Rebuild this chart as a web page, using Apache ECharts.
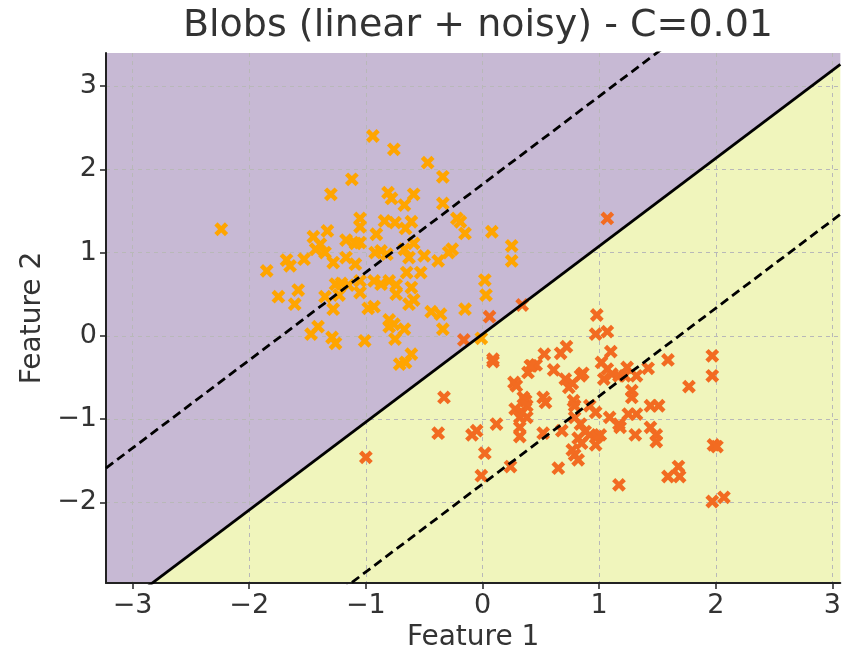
<!DOCTYPE html>
<html>
<head>
<meta charset="utf-8">
<script src="https://cdn.jsdelivr.net/npm/echarts@6/dist/echarts.min.js"></script>
<style>
  html, body { margin: 0; padding: 0; background: #fff; }
  #chart { width: 844px; height: 657px; }
</style>
</head>
<body>
<div id="chart"></div>
<script>
// axis ranges and ticks
const xRange = [-3.228, 3.068];
const yRange = [-2.969, 3.397];
const xTicks = [-3, -2, -1, 0, 1, 2, 3];
const yTicks = [-2, -1, 0, 1, 2, 3];

// svm boundary: y = slope * x + intercept
const boundarySlope = 1.056;
const boundaryIntercept = 0.02;
const marginIntercepts = [1.82, -1.78];

// class 0 (orange)
const class0 = [
  [-2.24, 1.28], [-0.94, 2.40], [-0.76, 2.24], [-0.47, 2.08], [-0.34, 1.91], [-1.12, 1.88],
  [-1.30, 1.70], [-0.81, 1.72], [-0.78, 1.65], [-0.59, 1.70], [-0.67, 1.57], [-0.34, 1.59],
  [-1.05, 1.41], [-1.05, 1.31], [-0.84, 1.38], [-0.75, 1.36], [-0.61, 1.37], [-0.66, 1.29],
  [-0.22, 1.41], [-0.19, 1.37], [-0.15, 1.23], [0.08, 1.25], [-1.33, 1.26], [-1.45, 1.19],
  [-1.39, 1.10], [-1.43, 1.04], [-1.35, 1.00], [-1.17, 1.15], [-1.09, 1.11], [-1.05, 1.12],
  [-0.91, 1.22], [-0.92, 1.00], [-0.87, 1.02], [-0.82, 0.98], [-0.67, 1.04], [-0.63, 0.94],
  [-0.59, 1.11], [-0.50, 0.96], [-0.38, 0.90], [-0.29, 1.00], [-0.26, 1.04], [0.25, 1.08],
  [0.25, 0.90], [-1.85, 0.78], [-1.68, 0.91], [-1.65, 0.84], [-1.53, 0.92], [-1.28, 0.88],
  [-1.17, 0.94], [-1.09, 0.86], [-1.75, 0.47], [-1.58, 0.55], [-1.61, 0.38], [-1.26, 0.62],
  [-1.21, 0.63], [-1.15, 0.61], [-1.35, 0.47], [-1.23, 0.49], [-1.28, 0.32], [-1.05, 0.52],
  [-1.05, 0.66], [-0.93, 0.66], [-0.87, 0.62], [-0.80, 0.66], [-0.74, 0.61], [-0.65, 0.76],
  [-0.53, 0.76], [-0.61, 0.58], [-0.74, 0.50], [-0.63, 0.38], [-0.59, 0.43], [-0.98, 0.33],
  [-0.93, 0.35], [-0.44, 0.29], [-0.36, 0.26], [-0.34, 0.08], [-0.15, 0.32], [0.02, 0.67],
  [0.03, 0.49], [-1.47, 0.02], [-1.41, 0.11], [-1.29, -0.02], [-1.26, -0.09], [-1.01, -0.06],
  [-0.80, 0.19], [-0.80, 0.11], [-0.76, 0.14], [-0.67, 0.08], [-0.75, -0.04], [-0.61, -0.22],
  [-0.71, -0.34], [-0.66, -0.32], [-0.01, -0.03]
];

// class 1 (orange-red)
const class1 = [
  [0.34, 0.37], [0.06, 0.23], [-0.16, -0.05], [0.98, 0.25], [0.97, 0.02], [1.07, 0.05],
  [-0.33, -0.74], [0.09, -0.31], [-0.38, -1.17], [-0.09, -1.19], [-0.05, -1.14], [0.02, -1.41],
  [-0.01, -1.68], [0.12, -1.06], [0.24, -1.57], [0.65, -1.59], [0.53, -0.22], [0.67, -0.21],
  [0.72, -0.13], [0.42, -0.36], [0.46, -0.35], [0.61, -0.41], [0.39, -0.44], [0.27, -0.56],
  [0.29, -0.60], [0.71, -0.52], [0.77, -0.57], [0.74, -0.62], [0.84, -0.48], [0.86, -0.45],
  [0.35, -0.74], [0.37, -0.78], [0.38, -0.84], [0.52, -0.74], [0.54, -0.80], [0.78, -0.78],
  [0.79, -0.84], [0.28, -0.88], [0.34, -0.92], [0.38, -0.98], [0.32, -0.98], [0.32, -1.10],
  [0.32, -1.21], [0.52, -1.17], [0.68, -1.14], [0.79, -0.98], [0.84, -1.06], [0.88, -1.15],
  [0.82, -1.23], [0.85, -1.29], [0.77, -1.37], [0.79, -1.43], [0.82, -1.49], [0.92, -0.84],
  [0.97, -0.92], [0.92, -1.19], [0.98, -1.21], [1.01, -1.19], [0.97, -1.31], [1.02, -0.32],
  [1.07, -0.40], [1.04, -0.52], [1.11, -0.46], [1.17, -0.48], [1.10, -0.19], [1.24, -0.38],
  [1.22, -0.48], [1.32, -0.48], [1.42, -0.39], [1.28, -0.66], [1.28, -0.74], [1.25, -0.94],
  [1.32, -0.94], [1.44, -0.84], [1.51, -0.84], [1.09, -0.98], [1.17, -1.06], [1.18, -1.10],
  [1.31, -1.19], [1.44, -1.10], [1.49, -1.19], [1.49, -1.27], [1.17, -1.79], [1.59, -0.29],
  [1.77, -0.61], [1.97, -0.24], [1.97, -0.48], [1.98, -1.31], [2.01, -1.33], [1.59, -1.69],
  [1.68, -1.57], [1.69, -1.69], [1.97, -1.99], [2.07, -1.94], [1.07, 1.41], [-1.00, -1.46],
  [0.09, -0.28], [0.41, -0.36]
];

const FONT = 'DejaVu Sans';
const TXT = '#333333';
const AXIS = '#222222';
// plus shape, rotated 45deg -> x marker
const X_MARK = 'path://M3.5,0H6.5V3.5H10V6.5H6.5V10H3.5V6.5H0V3.5H3.5Z';

function lineAt(b) {
  return [[xRange[0], boundarySlope * xRange[0] + b], [xRange[1], boundarySlope * xRange[1] + b]];
}
const fmt = v => String(v).replace('-', '\u2212');

const chart = echarts.init(document.getElementById('chart'), null, { renderer: 'canvas' });

const gridLine = { show: true, lineStyle: { type: [4, 4], color: '#b8b8b8', width: 1 } };

chart.setOption({
  animation: false,
  title: {
    text: 'Blobs (linear + noisy) - C=0.01',
    left: 473, textAlign: 'center', top: 2,
    textStyle: { fontFamily: FONT, fontSize: 38, fontWeight: 'normal', color: TXT }
  },
  grid: { left: 106, right: 2, top: 53, bottom: 74, containLabel: false },
  xAxis: {
    type: 'value', min: xRange[0], max: xRange[1],
    name: 'Feature 1', nameLocation: 'middle', nameGap: 41,
    nameTextStyle: { fontFamily: FONT, fontSize: 28, color: TXT },
    axisLine: { onZero: false, lineStyle: { color: AXIS, width: 2 } },
    axisTick: { customValues: xTicks, length: 6, lineStyle: { color: AXIS, width: 1.5 } },
    axisLabel: { customValues: xTicks, formatter: fmt, margin: 9, fontFamily: FONT, fontSize: 27, color: TXT },
    splitLine: gridLine
  },
  yAxis: {
    type: 'value', min: yRange[0], max: yRange[1],
    name: 'Feature 2', nameLocation: 'middle', nameGap: 56,
    nameTextStyle: { fontFamily: FONT, fontSize: 28, color: TXT },
    axisLine: { onZero: false, lineStyle: { color: AXIS, width: 2 } },
    axisTick: { customValues: yTicks, length: 6, lineStyle: { color: AXIS, width: 1.5 } },
    axisLabel: { customValues: yTicks, formatter: fmt, margin: 9, fontFamily: FONT, fontSize: 27, color: TXT },
    splitLine: gridLine
  },
  series: [
    {
      type: 'line', data: lineAt(boundaryIntercept), z: -2, silent: true,
      symbol: 'none', lineStyle: { width: 0 },
      areaStyle: { origin: 'end', color: '#c7b9d4', opacity: 1 }
    },
    {
      type: 'line', data: lineAt(boundaryIntercept), z: -2, silent: true,
      symbol: 'none', lineStyle: { width: 0 },
      areaStyle: { origin: 'start', color: '#f0f5bc', opacity: 1 }
    },
    {
      type: 'scatter', data: class0, z: 3,
      symbol: X_MARK, symbolSize: 15, symbolRotate: 45,
      itemStyle: { color: '#ffa500', opacity: 1 }
    },
    {
      type: 'scatter', data: class1, z: 3,
      symbol: X_MARK, symbolSize: 15, symbolRotate: 45,
      itemStyle: { color: '#f26b21', opacity: 1 }
    },
    {
      type: 'line', data: lineAt(boundaryIntercept), z: 4, symbol: 'none',
      lineStyle: { color: '#000', width: 2.8 }
    },
    ...marginIntercepts.map(b => ({
      type: 'line', data: lineAt(b), z: 4, symbol: 'none',
      lineStyle: { color: '#000', width: 2.8, type: [9, 5] }
    }))
  ]
});
</script>
</body>
</html>
